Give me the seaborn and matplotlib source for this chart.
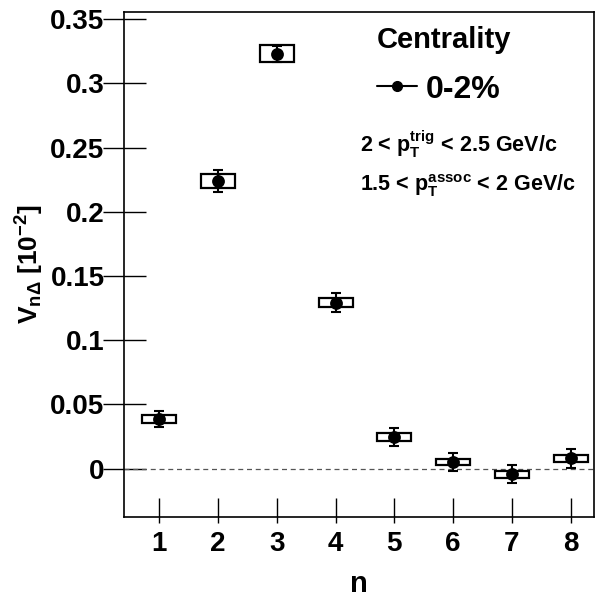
import numpy as np
import matplotlib
matplotlib.use("Agg")
import matplotlib.pyplot as plt
from matplotlib.lines import Line2D
import seaborn as sns

# Data
n = [1, 2, 3, 4, 5, 6, 7, 8]
vn = [0.0387, 0.2238, 0.3230, 0.1293, 0.0249, 0.0055, -0.0044, 0.0081]
stat_err = [0.0066, 0.0087, 0.0060, 0.0074, 0.0070, 0.0070, 0.0070, 0.0072]
sys_err = [0.0030, 0.0055, 0.0066, 0.0035, 0.0031, 0.0023, 0.0025, 0.0027]
yticks = [0, 0.05, 0.1, 0.15, 0.2, 0.25, 0.3, 0.35]
ytick_labels = ["0", "0.05", "0.1", "0.15", "0.2", "0.25", "0.3", "0.35"]

sns.set_theme(style="ticks")
plt.rcParams['font.family'] = ['Liberation Sans', 'DejaVu Sans']
plt.rcParams['font.weight'] = 'bold'
plt.rcParams['mathtext.fontset'] = 'custom'
plt.rcParams['mathtext.rm'] = 'Liberation Sans:bold'
plt.rcParams['mathtext.bf'] = 'Liberation Sans:bold'
plt.rcParams['mathtext.it'] = 'Liberation Sans:bold'
plt.rcParams['mathtext.default'] = 'bf'
for key in ['text.color', 'axes.labelcolor', 'xtick.color', 'ytick.color', 'axes.edgecolor']:
    plt.rcParams[key] = 'black'

fig = plt.figure(figsize=(5.96, 5.97), dpi=100)
ax = fig.add_axes([0.208, 0.1345, 0.789, 0.8455])

# zero line
ax.axhline(0, color='#555555', lw=0.9, ls=(0, (4, 3)), zorder=1)

# systematic boxes
vn_a = np.array(vn)
sys_a = np.array(sys_err)
ax.bar(n, 2 * sys_a, bottom=vn_a - sys_a, width=0.58, facecolor='white',
       edgecolor='black', linewidth=1.6, zorder=2)

# statistical errors
ax.errorbar(n, vn, yerr=stat_err, fmt='none', ecolor='black', elinewidth=1.5,
            capsize=3.5, capthick=1.5, zorder=3)

# points
sns.scatterplot(x=n, y=vn, ax=ax, color='black', s=85, marker='o',
                edgecolor='black', linewidth=0, zorder=4, legend=False)

ax.set_xlim(0.4, 8.4)
ax.set_ylim(-0.0374, 0.3557)
ax.set_xticks(n)
ax.set_xticklabels([str(i) for i in n])
ax.set_xticks(n, minor=True)
ax.xaxis.remove_overlapping_locs = False
ax.set_yticks(yticks)
ax.set_yticklabels(ytick_labels)
ax.set_yticks(yticks, minor=True)
ax.yaxis.remove_overlapping_locs = False
# ticks cross the frame: inner part as major, outer stub as minor
ax.tick_params(axis='y', which='major', direction='in', length=16, width=1,
               labelsize=20, pad=14)
ax.tick_params(axis='y', which='minor', direction='out', length=15, width=1)
ax.tick_params(axis='x', which='major', direction='in', length=14, width=1,
               labelsize=20, pad=10)
ax.tick_params(axis='x', which='minor', direction='out', length=4, width=1)
for lab in ax.get_xticklabels() + ax.get_yticklabels():
    lab.set_fontweight('bold')
for sp in ax.spines.values():
    sp.set_visible(True)
    sp.set_color('black')
    sp.set_linewidth(1.2)

ax.set_xlabel('n', fontsize=21, fontweight='bold', labelpad=10)
ax.set_ylabel(r'V$_{n\Delta}$ [10$^{-2}$]', fontsize=19, fontweight='bold', labelpad=3)

handle = Line2D([], [], color='black', marker='o', markersize=7, lw=1.5)
leg = ax.legend([handle], ['0-2%'], title='Centrality', loc='upper left',
                bbox_to_anchor=(0.538, 0.972), frameon=False, fontsize=23,
                handlelength=1.25, handletextpad=0.28, alignment='left',
                borderpad=0, borderaxespad=0, labelspacing=0.64,
                title_fontproperties={'size': 21, 'weight': 'bold'})
for t in leg.get_texts():
    t.set_fontweight('bold')

ax.text(0.502, 0.738, r'2 < p$_{T}^{trig}$ < 2.5 GeV/c', transform=ax.transAxes,
        fontsize=15.5, fontweight='bold', va='center', ha='left')
ax.text(0.502, 0.655, r'1.5 < p$_{T}^{assoc}$ < 2 GeV/c', transform=ax.transAxes,
        fontsize=15.5, fontweight='bold', va='center', ha='left')

fig.savefig('out.png', dpi=100, facecolor='white')
